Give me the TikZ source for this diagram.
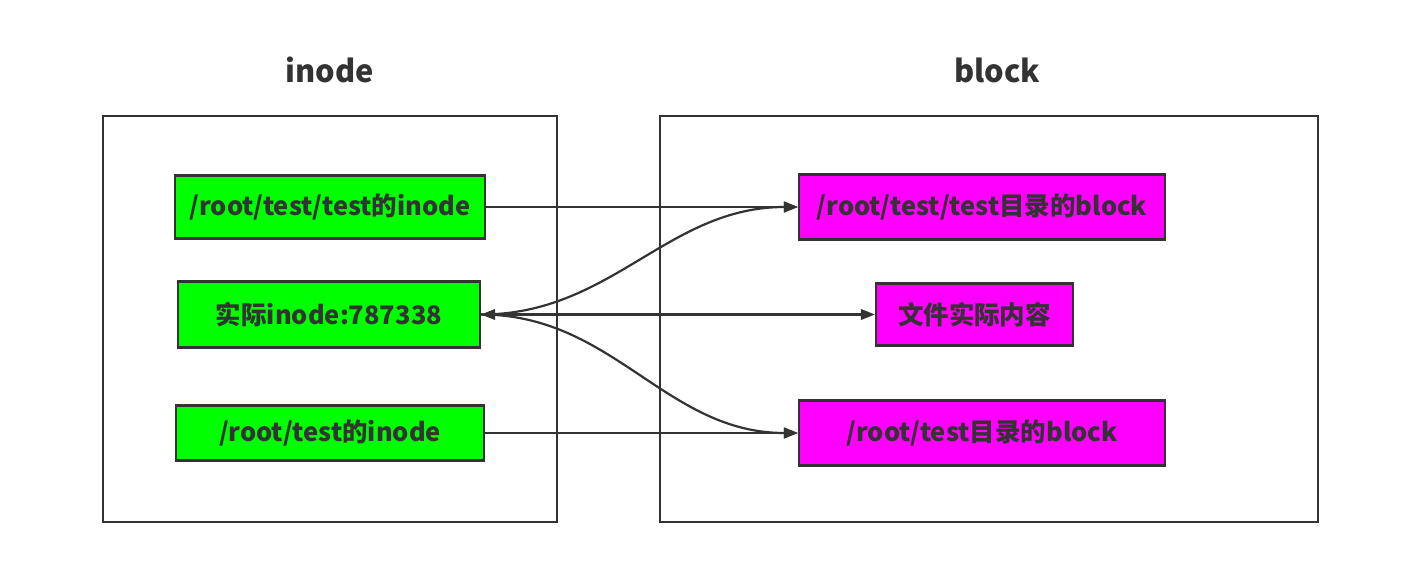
\documentclass[tikz,border=0pt]{standalone}
\usepackage{fontspec}
\setmainfont{Noto Sans CJK SC}
\usepackage{xcolor}
\usetikzlibrary{arrows.meta,positioning}
\definecolor{ink}{HTML}{333333}
\definecolor{inodegreen}{HTML}{00FF00}
\definecolor{blockpink}{HTML}{FF00FF}

\begin{document}
\begin{tikzpicture}[x=0.02cm, y=-0.02cm, line width=1.25pt,
	every node/.style={text=ink, inner sep=0pt, font=\bfseries\fontsize{14.5}{17}\selectfont},
	frame/.style={draw=ink, minimum height=8.12cm},
	title/.style={font=\bfseries\fontsize{17.5}{21}\selectfont},
	ibox/.style={draw=ink, fill=inodegreen, minimum width=6.1cm, minimum height=1.2cm},
	bbox/.style={draw=ink, fill=blockpink, minimum width=7.32cm, minimum height=1.3cm},
	link/.style={draw=ink, -{Triangle[length=8pt,width=6pt]}}]
	\useasboundingbox (0,0) rectangle (1409,578);
	% containers
	\node[frame, minimum width=9.08cm] (iframe) at (330,319) {};
	\node[frame, minimum width=13.16cm] (bframe) at (989,319) {};
	\node[title] (ititle) at (330,70) {inode};
	\node[title] (btitle) at (997,70) {block};
	% inode side
	\node[ibox, minimum width=6.2cm, minimum height=1.26cm] (i1) at (330,207) {/root/test/test的inode};
	\node[ibox, minimum width=6.04cm, minimum height=1.32cm] (i2) at (329,314.5) {实际inode:787338};
	\node[ibox, minimum width=6.16cm, minimum height=1.1cm] (i3) at (330,433) {/root/test的inode};
	% block side
	\node[bbox] (b1) at (982,207) {/root/test/test目录的block};
	\node[bbox, minimum width=3.94cm, minimum height=1.24cm] (b2) at (974.5,314.5) {文件实际内容};
	\node[bbox] (b3) at (982,433) {/root/test目录的block};
	% links
	\draw[link] (i1.east) -- (b1.west);
	\draw[link] (i3.east) -- (b3.west);
	\draw[link, {Triangle[length=8pt,width=6pt]}-{Triangle[length=8pt,width=6pt]}] (i2.east) -- (b2.west);
	\draw[link] (i2.east) to[out=0, in=180] (b1.west);
	\draw[link] (i2.east) to[out=0, in=180] (b3.west);
\end{tikzpicture}
\end{document}
